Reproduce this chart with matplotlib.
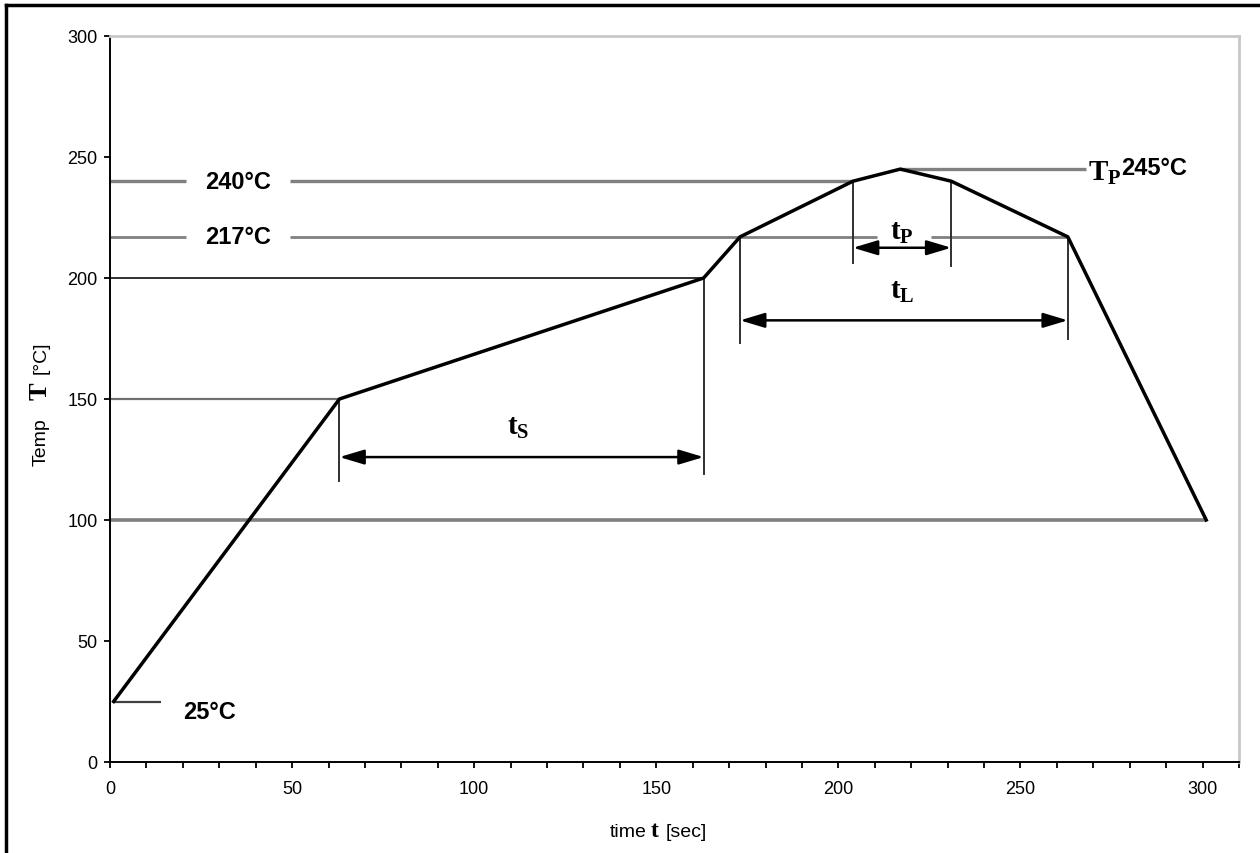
import matplotlib
matplotlib.use("Agg")
import matplotlib.pyplot as plt
from matplotlib.lines import Line2D

plt.rcParams['font.family'] = ['Liberation Sans', 'DejaVu Sans']
plt.rcParams['mathtext.fontset'] = 'custom'
plt.rcParams['mathtext.rm'] = 'Liberation Serif'
plt.rcParams['mathtext.bf'] = 'Liberation Serif:bold'
plt.rcParams['mathtext.it'] = 'Liberation Serif:italic'

# reflow profile (time s, temperature C)
profile_t = [1, 63, 163, 173, 204, 217, 231, 263, 301]
profile_T = [25, 150, 200, 217, 240, 245, 240, 217, 100]

x_major = [0, 50, 100, 150, 200, 250, 300]
y_major = [0, 50, 100, 150, 200, 250, 300]

# horizontal reference lines: (level, x start, x end, colour, width)
ref_lines = [
    (25, 1, 14, '#404040', 1.6),
    (100, 0, 301, '#808080', 2.6),
    (150, 0, 63, '#707070', 1.6),
    (200, 0, 163, '#202020', 1.3),
    (217, 0, 20.8, '#808080', 2.0),
    (217, 49.3, 210.5, '#808080', 2.0),
    (217, 225.5, 263, '#808080', 2.0),
    (240, 0, 20.8, '#808080', 2.4),
    (240, 49.3, 204, '#808080', 2.4),
    (245, 217, 268, '#808080', 2.4),
]

# vertical dimension lines: (x, top, bottom)
dim_lines = [(63, 150, 116), (163, 200, 119), (173, 217, 173), (263, 217, 175),
             (204, 240, 206), (231, 240, 205)]

# double arrows: (x0, x1, y, label, label x, label y)
arrows = [
    (63, 163, 126, r'$\mathbf{t_S}$', 112, 139),
    (173, 263, 182.5, r'$\mathbf{t_L}$', 217.5, 195),
    (204, 231, 212.5, r'$\mathbf{t_P}$', 217.5, 219.5),
]

fig = plt.figure(figsize=(12.6, 8.54), dpi=100)
ax = fig.add_axes([110 / 1260, 1 - 763 / 854, (1239 - 110) / 1260, (763 - 37) / 854])

for lvl, x0, x1, c, lw in ref_lines:
    ax.plot([x0, x1], [lvl, lvl], color=c, lw=lw, solid_capstyle='butt', zorder=2)

for x, y0, y1 in dim_lines:
    ax.plot([x, x], [y0, y1], color='#303030', lw=1.4, zorder=2)

for x0, x1, y, lab, lx, ly in arrows:
    ax.annotate('', xy=(x1, y), xytext=(x0, y),
                arrowprops=dict(arrowstyle='<|-|>,head_length=1.0,head_width=0.3',
                                color='black', lw=1.8,
                                mutation_scale=15, shrinkA=0, shrinkB=0), zorder=3)
    ax.text(lx, ly, lab, fontsize=21, ha='center', va='center', zorder=4)

ax.plot(profile_t, profile_T, color='black', lw=2.5, zorder=5)

# temperature labels
ax.text(35.3, 240, '240°C', fontsize=17, ha='center', va='center', fontweight='bold')
ax.text(35.3, 217, '217°C', fontsize=17, ha='center', va='center', fontweight='bold')
ax.text(20, 21, '25°C', fontsize=17, ha='left', va='center', fontweight='bold')
ax.text(268.5, 244, r'$\mathbf{T_P}$', fontsize=21, ha='left', va='center')
ax.text(277.5, 245.5, '245°C', fontsize=17, ha='left', va='center', fontweight='bold')

ax.set_xlim(0, 310)
ax.set_ylim(0, 300)
ax.set_xticks(x_major)
ax.set_xticks(range(0, 311, 10), minor=True)
ax.set_yticks(y_major)
ax.tick_params(axis='both', which='both', direction='out', length=4, width=1.3,
               labelsize=13, color='black')
ax.tick_params(axis='x', pad=9)
ax.tick_params(axis='y', pad=5)
for s in ['left', 'bottom']:
    ax.spines[s].set_color('black')
    ax.spines[s].set_linewidth(1.4)
for s in ['top', 'right']:
    ax.spines[s].set_color('#c8c8c8')
    ax.spines[s].set_linewidth(2)

# axis titles built from pieces (mixed fonts)
fig.text(647 / 1260, 1 - 833 / 854, 'time', fontsize=14, ha='right', va='center')
fig.text(655 / 1260, 1 - 831 / 854, r'$\mathbf{t}$', fontsize=17, ha='center', va='center')
fig.text(666 / 1260, 1 - 833 / 854, '[sec]', fontsize=14, ha='left', va='center')

fig.text(41 / 1260, 1 - 466 / 854, 'Temp', fontsize=14, rotation=90, ha='center', va='bottom')
fig.text(40 / 1260, 1 - 391 / 854, r'$\mathbf{T}$', fontsize=19, rotation=90, ha='center', va='center')
fig.text(41 / 1260, 1 - 374 / 854, '[°C]', fontsize=14, rotation=90, ha='center', va='bottom')

# outer frame (left and top edges)
fig.add_artist(Line2D([6 / 1260, 6 / 1260], [0, 1 - 6 / 854], color='black', lw=2.5,
                      transform=fig.transFigure))
fig.add_artist(Line2D([6 / 1260, 1], [1 - 6 / 854, 1 - 6 / 854], color='black', lw=2.5,
                      transform=fig.transFigure))

fig.savefig('out.png', dpi=100)
